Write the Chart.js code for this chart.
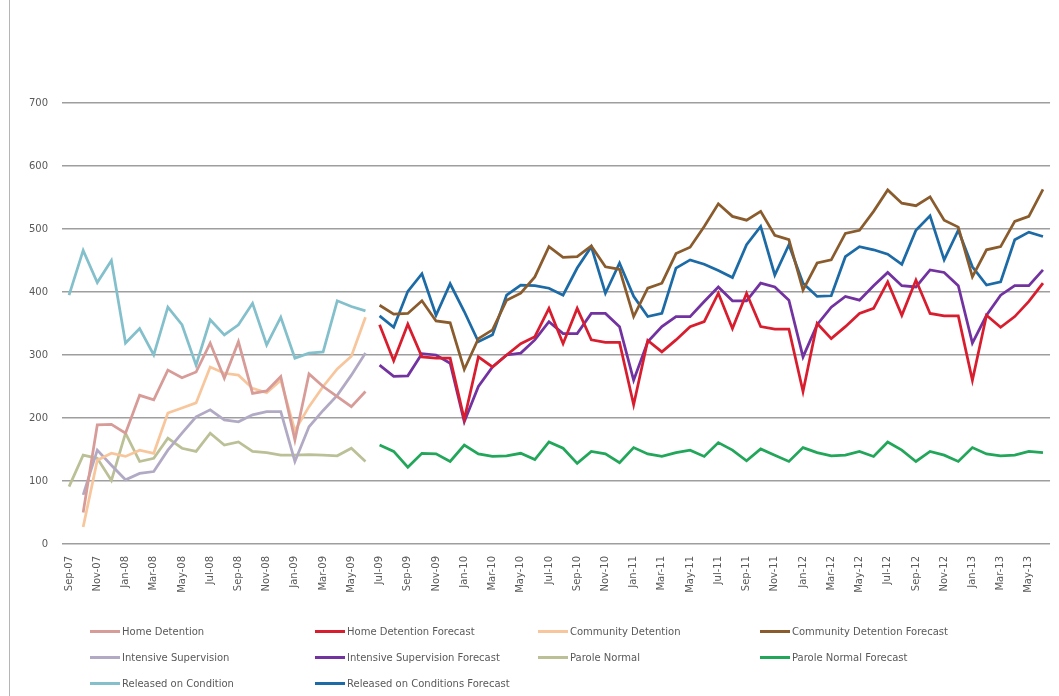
<!DOCTYPE html>
<html>
<head>
<meta charset="utf-8">
<script src="https://cdn.jsdelivr.net/npm/chart.js@4.4.1/dist/chart.umd.min.js"></script>
<style>
  html, body { margin: 0; padding: 0; background: #fff; }
  #wrap { position: relative; width: 1059px; height: 696px; overflow: hidden; }
  #frame { position: absolute; left: 9px; top: 0; bottom: 0; border-left: 1px solid #b5b5b5; }
  #chart { position: absolute; left: 0; top: 0; }
  #legend { position: absolute; left: 0; top: 0; width: 1059px; height: 696px; pointer-events: none;
            font-family: 'DejaVu Sans', sans-serif; font-size: 10px; color: #595959; }
  .item { position: absolute; display: flex; align-items: center; white-space: nowrap; }
  .swatch { width: 30px; height: 3px; margin-right: 2px; }
</style>
</head>
<body>
<div id="wrap">
  <div id="frame"></div>
  <canvas id="chart" width="1059" height="610"></canvas>
  <div id="legend"></div>
</div>
<script>
// months on the category axis
const months = [
  'Sep-07','Oct-07','Nov-07','Dec-07',
  'Jan-08','Feb-08','Mar-08','Apr-08','May-08','Jun-08','Jul-08','Aug-08','Sep-08','Oct-08','Nov-08','Dec-08',
  'Jan-09','Feb-09','Mar-09','Apr-09','May-09','Jun-09','Jul-09','Aug-09','Sep-09','Oct-09','Nov-09','Dec-09',
  'Jan-10','Feb-10','Mar-10','Apr-10','May-10','Jun-10','Jul-10','Aug-10','Sep-10','Oct-10','Nov-10','Dec-10',
  'Jan-11','Feb-11','Mar-11','Apr-11','May-11','Jun-11','Jul-11','Aug-11','Sep-11','Oct-11','Nov-11','Dec-11',
  'Jan-12','Feb-12','Mar-12','Apr-12','May-12','Jun-12','Jul-12','Aug-12','Sep-12','Oct-12','Nov-12','Dec-12',
  'Jan-13','Feb-13','Mar-13','Apr-13','May-13','Jun-13'
];

// actuals, Sep-07 .. Jun-09
const homeDetention     = [null, 50, 189, 190, 176, 236, 229, 276, 264, 273, 319, 263, 321, 239, 243, 266, 165, 270, 250, 234, 218, 242];
const communityDetention = [null, 27, 133, 144, 139, 149, 144, 208, 216, 224, 281, 271, 268, 247, 240, 260, 180, 218, 250, 278, 298, 360];
const intensiveSupervision = [null, 78, 149, 125, 102, 112, 115, 149, 176, 202, 213, 197, 194, 205, 210, 210, 131, 186, 212, 236, 268, 303];
const paroleNormal      = [91, 141, 136, 101, 176, 131, 136, 168, 152, 147, 176, 157, 162, 147, 145, 141, 141, 142, 141, 140, 152, 131];
const releasedOnCondition = [395, 466, 415, 450, 319, 342, 300, 376, 348, 284, 356, 332, 348, 382, 316, 360, 295, 303, 305, 386, 377, 370];

// forecasts, Jul-09 .. Jun-13
const homeDetentionFc = [348, 291, 349, 297, 295, 295, 198, 297, 281, 300, 318, 329, 374, 318, 374, 324,
  320, 320, 221, 323, 305, 324, 345, 353, 398, 342, 398, 345, 341, 341, 242, 350,
  326, 345, 366, 374, 416, 363, 419, 366, 362, 362, 260, 363, 344, 361, 385, 414];
const communityDetentionFc = [379, 365, 366, 386, 354, 351, 277, 326, 340, 387, 398, 424, 472, 455, 456, 473,
  440, 436, 361, 406, 414, 461, 471, 504, 540, 520, 514, 528, 490, 483, 403, 446,
  451, 493, 498, 528, 562, 541, 537, 551, 514, 503, 424, 467, 472, 512, 520, 563];
const intensiveSupervisionFc = [284, 266, 267, 302, 300, 287, 194, 250, 281, 300, 303, 324, 353, 334, 334, 366,
  366, 345, 260, 321, 345, 361, 361, 385, 408, 386, 386, 414, 408, 387, 297, 348,
  376, 393, 387, 410, 431, 410, 408, 435, 431, 410, 319, 363, 395, 410, 410, 435];
const paroleNormalFc = [157, 147, 122, 144, 143, 131, 157, 143, 139, 140, 144, 134, 162, 152, 128, 147,
  143, 129, 153, 143, 139, 145, 149, 139, 161, 149, 132, 151, 141, 131, 153, 145,
  140, 141, 147, 139, 162, 149, 131, 147, 141, 131, 153, 143, 140, 141, 147, 145];
const releasedOnConditionFc = [362, 344, 401, 429, 363, 413, 369, 321, 332, 395, 411, 410, 406, 395, 438, 472,
  398, 446, 393, 361, 366, 438, 451, 444, 434, 423, 475, 504, 427, 475, 414, 393,
  394, 456, 472, 467, 460, 444, 498, 521, 451, 498, 440, 411, 416, 483, 495, 488];

const pad = n => Array(n).fill(null);
const actual = arr => arr.concat(pad(months.length - arr.length));
const forecast = arr => pad(months.length - arr.length).concat(arr);

const series = [
  { label: 'Home Detention', data: actual(homeDetention), color: '#d79b98' },
  { label: 'Home Detention Forecast', data: forecast(homeDetentionFc), color: '#d81e2e' },
  { label: 'Community Detention', data: actual(communityDetention), color: '#f8c69c' },
  { label: 'Community Detention Forecast', data: forecast(communityDetentionFc), color: '#8a5b2c' },
  { label: 'Intensive Supervision', data: actual(intensiveSupervision), color: '#b2aac4' },
  { label: 'Intensive Supervision Forecast', data: forecast(intensiveSupervisionFc), color: '#7232a0' },
  { label: 'Parole Normal', data: actual(paroleNormal), color: '#bcc096' },
  { label: 'Parole Normal Forecast', data: forecast(paroleNormalFc), color: '#22a65a' },
  { label: 'Released on Condition', data: actual(releasedOnCondition), color: '#84c0cc' },
  { label: 'Released on Conditions Forecast', data: forecast(releasedOnConditionFc), color: '#1c6aa6' }
];

const tickFont = { family: 'DejaVu Sans', size: 10 };

new Chart(document.getElementById('chart'), {
  type: 'line',
  data: {
    labels: months,
    datasets: series.map(s => ({
      label: s.label,
      data: s.data,
      borderColor: s.color,
      backgroundColor: s.color,
      borderWidth: 2.75,
      pointRadius: 0,
      tension: 0,
      spanGaps: false
    }))
  },
  options: {
    responsive: false,
    animation: false,
    devicePixelRatio: 1,
    layout: { padding: { top: 103, left: 10, right: 4, bottom: 0 } },
    plugins: { legend: { display: false }, tooltip: { enabled: false } },
    scales: {
      x: {
        offset: true,
        grid: { display: false },
        border: { display: false },
        ticks: {
          autoSkip: false,
          minRotation: 90,
          maxRotation: 90,
          padding: 4,
          color: '#595959',
          font: tickFont,
          callback: (v, i) => (i % 2 === 0 ? months[i] : '')
        },
        afterFit: s => { s.height = 66; }
      },
      y: {
        min: 0,
        max: 700,
        ticks: { stepSize: 100, padding: 14, color: '#595959', font: tickFont },
        grid: { color: '#9e9e9e', lineWidth: 1.5, drawTicks: false },
        border: { display: false },
        afterFit: s => { s.width = 52; }
      }
    }
  }
});

// legend laid out in a 4-column grid like the original
const legend = document.getElementById('legend');
const colX = [90, 315, 538, 760];
const rowY = [631, 657, 683];
series.forEach((s, i) => {
  const item = document.createElement('div');
  item.className = 'item';
  item.style.left = colX[i % 4] + 'px';
  item.style.top = (rowY[Math.floor(i / 4)] - 7) + 'px';
  item.style.height = '14px';
  item.innerHTML = `<span class="swatch" style="background:${s.color}"></span><span>${s.label}</span>`;
  legend.appendChild(item);
});
</script>
</body>
</html>
